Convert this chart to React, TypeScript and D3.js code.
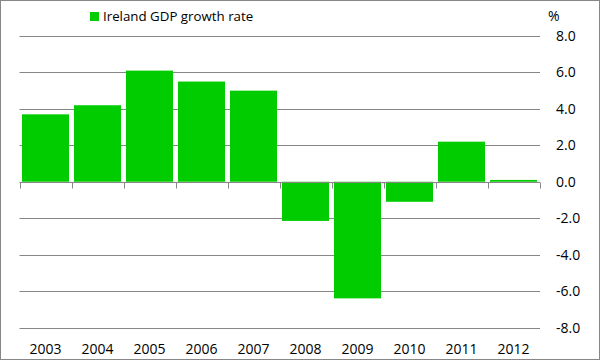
import React from "react";
import * as d3 from "d3";

const years = ["2003", "2004", "2005", "2006", "2007", "2008", "2009", "2010", "2011", "2012"];
const growth = [3.7, 4.2, 6.1, 5.5, 5.0, -2.15, -6.4, -1.1, 2.2, 0.1];
const yTicks = [8, 6, 4, 2, 0, -2, -4, -6, -8];
const seriesName = "Ireland GDP growth rate";

const W = 601;
const H = 361;
const FONT = "'Open Sans', 'Liberation Sans', Arial, sans-serif";

export default function App() {
  const band = d3.scaleBand<string>().domain(years).range([19.5, 539.5]);
  const y = d3.scaleLinear().domain([-8, 8]).range([327.5, 36]);
  const green = "#00cc00";
  const grid = "#878787";
  const barW = band.bandwidth() - 5;

  return (
    <svg width={W} height={H} style={{ position: "absolute", left: 0, top: 0 }}>
      <rect x={0.5} y={0.5} width={599} height={359} fill="#fff" stroke={grid} strokeWidth={1} />
      {yTicks.filter((t) => t !== 0).map((t) => (
        <line key={t} x1={19.5} x2={540} y1={Math.round(y(t)) + 0.5} y2={Math.round(y(t)) + 0.5} stroke={grid} strokeWidth={1} />
      ))}
      {growth.map((v, i) => {
        const bx = (band(years[i]) as number) + (band.bandwidth() - barW) / 2;
        const y0 = y(0);
        const yv = y(v);
        return (
          <rect key={years[i]} x={bx} y={Math.min(y0, yv)} width={barW} height={Math.abs(yv - y0)} fill={green} />
        );
      })}
      <line x1={19.5} x2={540} y1={Math.round(y(0)) + 0.5} y2={Math.round(y(0)) + 0.5} stroke={grid} strokeWidth={1} />
      {[...years.map((yr) => band(yr) as number), 539.5].map((tx, i) => (
        <line key={i} x1={Math.round(tx) + 0.5} x2={Math.round(tx) + 0.5} y1={Math.round(y(0)) + 0.5} y2={Math.round(y(0)) + 6.5} stroke={grid} strokeWidth={1} />
      ))}
      {yTicks.map((t) => (
        <text key={t} x={556} y={y(t) + 5} fontFamily={FONT} fontSize={14} fill="#000">
          {t.toFixed(1)}
        </text>
      ))}
      {years.map((yr) => (
        <text key={yr} x={(band(yr) as number) + band.bandwidth() / 2} y={354} textAnchor="middle" fontFamily={FONT} fontSize={14} fill="#000">
          {yr}
        </text>
      ))}
      <text x={548} y={21} fontFamily={FONT} fontSize={14} fill="#000">%</text>
      <rect x={90} y={12} width={9} height={9} fill={green} />
      <text x={103} y={21} fontFamily={FONT} fontSize={13.3} fill="#000">{seriesName}</text>
    </svg>
  );
}
